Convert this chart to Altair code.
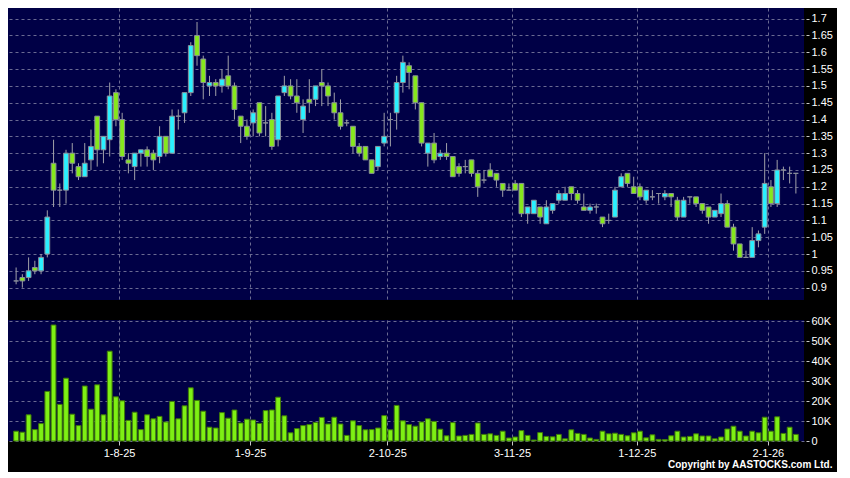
import altair as alt
import pandas as pd

# ---- data ----
open_ = [0.92, 0.93, 0.93, 0.96, 0.95, 1.00, 1.27, 1.19, 1.19, 1.30,
         1.26, 1.23, 1.28, 1.41, 1.31, 1.34, 1.48, 1.40, 1.28, 1.26,
         1.30, 1.31, 1.30, 1.29, 1.35, 1.30, 1.41, 1.42, 1.48, 1.65,
         1.58, 1.50, 1.51, 1.50, 1.53, 1.50, 1.41, 1.38, 1.39, 1.45,
         1.39, 1.40, 1.34, 1.48, 1.50, 1.47, 1.40, 1.46, 1.46, 1.51,
         1.50, 1.45, 1.42, 1.39, 1.38, 1.32, 1.32, 1.28, 1.26, 1.33,
         1.40, 1.42, 1.51, 1.56, 1.53, 1.45, 1.30, 1.33, 1.29, 1.30,
         1.29, 1.26, 1.26, 1.28, 1.24, 1.22, 1.25, 1.24, 1.21, 1.19,
         1.21, 1.21, 1.12, 1.12, 1.14, 1.09, 1.13, 1.16, 1.16, 1.20,
         1.18, 1.14, 1.13, 1.14, 1.11, 1.10, 1.11, 1.20, 1.24, 1.20,
         1.20, 1.16, 1.17, 1.18, 1.17, 1.18, 1.16, 1.11, 1.17, 1.17,
         1.15, 1.14, 1.11, 1.12, 1.15, 1.08, 1.03, 0.99, 0.99, 1.04,
         1.08, 1.20, 1.15, 1.25, 1.24, 1.24]
close = [0.92, 0.92, 0.95, 0.95, 0.99, 1.11, 1.19, 1.19, 1.30, 1.27,
         1.23, 1.27, 1.32, 1.31, 1.35, 1.47, 1.40, 1.29, 1.27, 1.30,
         1.31, 1.29, 1.28, 1.35, 1.30, 1.41, 1.41, 1.48, 1.62, 1.59,
         1.51, 1.51, 1.50, 1.52, 1.50, 1.43, 1.38, 1.35, 1.42, 1.36,
         1.39, 1.32, 1.47, 1.50, 1.47, 1.45, 1.44, 1.45, 1.50, 1.50,
         1.47, 1.42, 1.38, 1.39, 1.32, 1.30, 1.28, 1.24, 1.32, 1.35,
         1.40, 1.51, 1.57, 1.54, 1.45, 1.33, 1.33, 1.28, 1.30, 1.29,
         1.23, 1.24, 1.26, 1.24, 1.20, 1.22, 1.23, 1.22, 1.19, 1.19,
         1.19, 1.12, 1.14, 1.16, 1.11, 1.14, 1.15, 1.18, 1.18, 1.18,
         1.16, 1.13, 1.14, 1.14, 1.09, 1.10, 1.19, 1.23, 1.21, 1.18,
         1.17, 1.19, 1.17, 1.18, 1.18, 1.17, 1.11, 1.16, 1.17, 1.15,
         1.13, 1.11, 1.13, 1.15, 1.08, 1.03, 0.99, 0.99, 1.04, 1.06,
         1.21, 1.15, 1.25, 1.25, 1.24, 1.24]
high = [0.96, 0.94, 0.99, 0.98, 1.00, 1.13, 1.34, 1.21, 1.31, 1.33,
        1.27, 1.33, 1.37, 1.41, 1.35, 1.51, 1.49, 1.42, 1.30, 1.30,
        1.31, 1.32, 1.31, 1.38, 1.35, 1.43, 1.43, 1.48, 1.63, 1.69,
        1.59, 1.53, 1.52, 1.55, 1.59, 1.51, 1.41, 1.40, 1.43, 1.45,
        1.44, 1.42, 1.47, 1.53, 1.52, 1.52, 1.46, 1.52, 1.50, 1.55,
        1.51, 1.48, 1.46, 1.40, 1.38, 1.33, 1.32, 1.28, 1.32, 1.42,
        1.42, 1.53, 1.59, 1.57, 1.53, 1.45, 1.33, 1.36, 1.31, 1.33,
        1.29, 1.27, 1.28, 1.28, 1.25, 1.25, 1.27, 1.24, 1.21, 1.21,
        1.22, 1.21, 1.14, 1.16, 1.14, 1.16, 1.15, 1.19, 1.20, 1.20,
        1.19, 1.18, 1.15, 1.15, 1.11, 1.12, 1.20, 1.24, 1.24, 1.23,
        1.21, 1.19, 1.19, 1.18, 1.19, 1.18, 1.17, 1.17, 1.17, 1.17,
        1.15, 1.14, 1.13, 1.18, 1.16, 1.09, 1.03, 1.01, 1.08, 1.07,
        1.30, 1.22, 1.28, 1.26, 1.26, 1.24]
low = [0.91, 0.90, 0.92, 0.94, 0.94, 0.99, 1.14, 1.14, 1.15, 1.24,
       1.22, 1.23, 1.25, 1.26, 1.27, 1.29, 1.38, 1.28, 1.24, 1.22,
       1.26, 1.26, 1.25, 1.27, 1.29, 1.30, 1.37, 1.39, 1.47, 1.56,
       1.46, 1.47, 1.47, 1.48, 1.49, 1.40, 1.33, 1.34, 1.35, 1.35,
       1.35, 1.31, 1.32, 1.47, 1.46, 1.42, 1.36, 1.42, 1.44, 1.44,
       1.44, 1.40, 1.37, 1.38, 1.30, 1.29, 1.28, 1.24, 1.25, 1.32,
       1.32, 1.37, 1.48, 1.49, 1.43, 1.32, 1.26, 1.27, 1.28, 1.28,
       1.23, 1.23, 1.24, 1.23, 1.17, 1.21, 1.23, 1.20, 1.17, 1.19,
       1.19, 1.11, 1.09, 1.12, 1.09, 1.09, 1.12, 1.15, 1.16, 1.16,
       1.15, 1.13, 1.12, 1.12, 1.08, 1.09, 1.11, 1.20, 1.20, 1.18,
       1.16, 1.15, 1.16, 1.15, 1.16, 1.14, 1.10, 1.11, 1.15, 1.14,
       1.12, 1.09, 1.11, 1.11, 1.08, 1.01, 0.99, 0.99, 0.99, 1.02,
       1.06, 1.14, 1.14, 1.22, 1.21, 1.18]
volume_k = [4.9, 4.4, 13.1, 5.7, 8.7, 24.8, 58.0, 18.3, 31.4, 13.4,
            7.7, 27.5, 15.9, 28.1, 13.1, 44.9, 22.1, 20.1, 10.3, 14.4,
            5.7, 13.1, 11.1, 12.3, 9.5, 19.8, 11.1, 17.6, 26.6, 20.3,
            14.9, 6.9, 6.5, 14.2, 11.4, 15.5, 9.0, 10.9, 10.5, 8.8,
            15.2, 15.5, 21.9, 12.6, 4.1, 6.2, 7.7, 8.2, 9.3, 11.8,
            8.5, 11.9, 8.5, 2.8, 10.1, 7.7, 5.6, 5.7, 6.5, 12.7,
            5.6, 17.8, 10.1, 8.2, 7.4, 9.5, 11.1, 9.8, 5.9, 2.6,
            9.2, 2.5, 2.8, 3.3, 9.0, 3.3, 3.6, 2.8, 4.9, 1.5,
            2.0, 5.2, 2.8, 0.5, 4.2, 2.3, 2.1, 3.3, 1.1, 5.6,
            3.8, 3.3, 1.5, 0.8, 4.9, 3.6, 3.9, 3.3, 2.6, 4.1,
            4.9, 1.6, 3.1, 0.8, 0.7, 2.6, 4.9, 2.0, 2.3, 3.6,
            2.5, 2.5, 1.1, 2.0, 6.0, 7.4, 4.9, 2.5, 4.9, 4.1,
            11.9, 4.9, 12.1, 3.8, 6.9, 3.3]

# month boundaries (bar index where the month's first session starts) and labels
month_start_bar = [17, 38, 60, 80, 100, 121]
month_labels = ["1-8-25", "1-9-25", "2-10-25", "3-11-25", "1-12-25", "2-1-26"]

price_ticks = [round(0.9 + 0.05 * k, 2) for k in range(17)]
volume_ticks = [0, 10, 20, 30, 40, 50, 60]

n = len(close)
df = pd.DataFrame({
    "i": list(range(n)),
    "open": open_, "close": close, "high": high, "low": low,
    "vol": volume_k,
})
df["dir"] = ["up" if c > o else "down" for o, c in zip(open_, close)]

grid_pos = [b - 0.5 for b in month_start_bar]
label_expr = "''"
for p, lab in zip(reversed(grid_pos), reversed(month_labels)):
    label_expr = f"datum.value == {p} ? '{lab}' : ({label_expr})"

# ---- styling ----
NAVY = "#000046"
CYAN = "#2AF0FF"
GREEN = "#86E81C"
BODY_STROKE = "#8a8f9a"
WICK = "#a0a0a8"
VOL_FILL = "#7EF014"
VOL_STROKE = "#3F7A08"
GRID = "#6a6a92"
FONT = "Liberation Sans"

W = 796
H1 = 292
H2 = 121

xs = alt.Scale(domain=[-0.5, n - 0.5], nice=False, zero=False)
ys = alt.Scale(domain=[0.8633, 1.7317], nice=False, zero=False)


def x_axis_price():
    return alt.Axis(values=grid_pos, labels=False, ticks=False, domain=False,
                    grid=True, title=None)


def y_axis_price():
    return alt.Axis(orient="right", values=price_ticks, format=".2~f", grid=True,
                    domain=False, tickSize=3, offset=2, labelPadding=2, title=None,
                    labelOverlap=False, tickCount=17)


base = alt.Chart(df)

wicks = base.mark_rule(color=WICK, strokeWidth=1).encode(
    x=alt.X("i:Q", scale=xs, axis=x_axis_price()),
    y=alt.Y("low:Q", scale=ys, axis=y_axis_price()),
    y2="high:Q",
)
bodies = base.mark_bar(size=4.8, stroke=BODY_STROKE, strokeWidth=1).encode(
    x=alt.X("i:Q", scale=xs, axis=x_axis_price()),
    y=alt.Y("open:Q", scale=ys, axis=y_axis_price()),
    y2="close:Q",
    color=alt.Color("dir:N", scale=alt.Scale(domain=["up", "down"], range=[CYAN, GREEN]),
                    legend=None),
)
price = alt.layer(wicks, bodies).properties(width=W, height=H1)

x_axis_vol = alt.Axis(values=grid_pos, labelExpr=label_expr, tickSize=4, domain=False,
                      grid=True, title=None, labelPadding=2, labelFlush=False)
y_axis_vol = alt.Axis(orient="right", values=volume_ticks, grid=True, domain=False,
                      tickSize=3, offset=2, labelPadding=2, title=None, labelOverlap=False,
                      labelExpr="datum.value == 0 ? '0' : datum.value + 'K'")

vol = base.mark_bar(size=4.8, color=VOL_FILL, stroke=VOL_STROKE, strokeWidth=1).encode(
    x=alt.X("i:Q", scale=xs, axis=x_axis_vol),
    y=alt.Y("vol:Q", scale=alt.Scale(domain=[0, 60.5], nice=False), axis=y_axis_vol),
).properties(width=W, height=H2)

chart = alt.vconcat(price, vol, spacing=14).properties(
    title=alt.TitleParams(
        text="Copyright by AASTOCKS.com Ltd.",
        orient="bottom", anchor="end", color="#ffffff",
        font=FONT, fontSize=10, fontWeight="bold", offset=2,
    ),
    background="#000000",
    padding={"left": 0, "top": 0, "right": 4, "bottom": 2},
).configure_view(
    fill=NAVY, strokeWidth=0,
).configure_axis(
    labelColor="#ffffff", labelFont=FONT, labelFontSize=11,
    tickColor="#c8c8c8", gridColor=GRID, gridDash=[3, 3], gridWidth=1,
).configure_concat(spacing=14)

chart.save("out.html", embed_options={"renderer": "svg", "actions": False})
